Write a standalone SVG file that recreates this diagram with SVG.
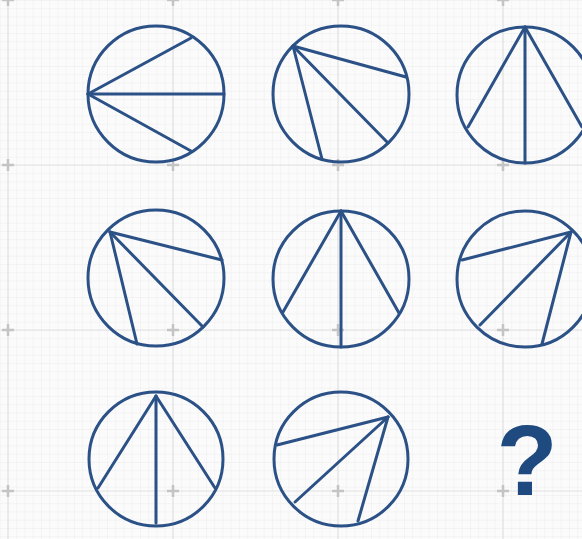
<svg xmlns="http://www.w3.org/2000/svg" width="582" height="539" viewBox="0 0 582 539">
<defs>
<pattern id="minor" x="8" y="0" width="8.25" height="8.25" patternUnits="userSpaceOnUse">
<path d="M0 0V8.25M0 0H8.25" fill="none" stroke="#ececec" stroke-width="1"/>
</pattern>
<path id="cross" d="M-6 0H6M0 -6V6" stroke="#c4c4c4" stroke-width="2.5"/>
</defs>
<style>
.fig circle, .fig line { fill: none; stroke: #2b5186; stroke-width: 3; stroke-linecap: round; }
.major { stroke: #e2e2e2; stroke-width: 1.2; }
</style>
<rect width="582" height="539" fill="#fbfbfb"/>
<rect width="582" height="539" fill="url(#minor)"/>
<g id="grid">
<line class="major" x1="8" y1="0" x2="8" y2="539"/>
<line class="major" x1="173" y1="0" x2="173" y2="539"/>
<line class="major" x1="338" y1="0" x2="338" y2="539"/>
<line class="major" x1="503" y1="0" x2="503" y2="539"/>
<line class="major" x1="0" y1="165" x2="582" y2="165"/>
<line class="major" x1="0" y1="330" x2="582" y2="330"/>
<line class="major" x1="0" y1="491" x2="582" y2="491"/>
<use href="#cross" x="8" y="0"/><use href="#cross" x="173" y="0"/><use href="#cross" x="338" y="0"/><use href="#cross" x="503" y="0"/>
<use href="#cross" x="8" y="165"/><use href="#cross" x="173" y="165"/><use href="#cross" x="338" y="165"/><use href="#cross" x="503" y="165"/>
<use href="#cross" x="8" y="330"/><use href="#cross" x="173" y="330"/><use href="#cross" x="338" y="330"/><use href="#cross" x="503" y="330"/>
<use href="#cross" x="8" y="491"/><use href="#cross" x="173" y="491"/><use href="#cross" x="338" y="491"/><use href="#cross" x="503" y="491"/>
</g>
<g id="fig1" class="fig">
<circle cx="156" cy="94" r="68"/>
<line x1="88" y1="94" x2="224" y2="94"/>
<line x1="88" y1="94" x2="191" y2="38"/>
<line x1="88" y1="94" x2="191" y2="151"/>
</g>
<g id="fig2" class="fig">
<circle cx="341" cy="94" r="68"/>
<line x1="293" y1="46" x2="406" y2="77"/>
<line x1="293" y1="46" x2="388" y2="143"/>
<line x1="293" y1="46" x2="322" y2="159"/>
</g>
<g id="fig3" class="fig">
<circle cx="525" cy="95" r="68"/>
<line x1="525" y1="27" x2="525" y2="163"/>
<line x1="525" y1="27" x2="468" y2="127"/>
<line x1="525" y1="27" x2="582" y2="127"/>
</g>
<g id="fig4" class="fig">
<circle cx="156" cy="278" r="68"/>
<line x1="110" y1="232" x2="222" y2="260"/>
<line x1="110" y1="232" x2="203" y2="327"/>
<line x1="110" y1="232" x2="137" y2="344"/>
</g>
<g id="fig5" class="fig">
<circle cx="341" cy="279" r="68"/>
<line x1="341" y1="211" x2="341" y2="347"/>
<line x1="341" y1="211" x2="283" y2="312"/>
<line x1="341" y1="211" x2="399" y2="313"/>
</g>
<g id="fig6" class="fig">
<circle cx="525" cy="279" r="68"/>
<line x1="571" y1="232" x2="462" y2="260"/>
<line x1="571" y1="232" x2="480" y2="325"/>
<line x1="571" y1="232" x2="542" y2="344"/>
</g>
<g id="fig7" class="fig">
<circle cx="156" cy="459" r="67"/>
<line x1="156" y1="396" x2="156" y2="523"/>
<line x1="156" y1="396" x2="98" y2="488"/>
<line x1="156" y1="396" x2="215" y2="488"/>
</g>
<g id="fig8" class="fig">
<circle cx="341" cy="459" r="67"/>
<line x1="388" y1="417" x2="277" y2="445"/>
<line x1="388" y1="417" x2="295" y2="502"/>
<line x1="388" y1="417" x2="358" y2="521"/>
</g>
<text id="question" x="527" y="495" text-anchor="middle" font-family="Liberation Sans, Arial, sans-serif" font-weight="bold" font-size="100" fill="#1f4a80">?</text>
</svg>
